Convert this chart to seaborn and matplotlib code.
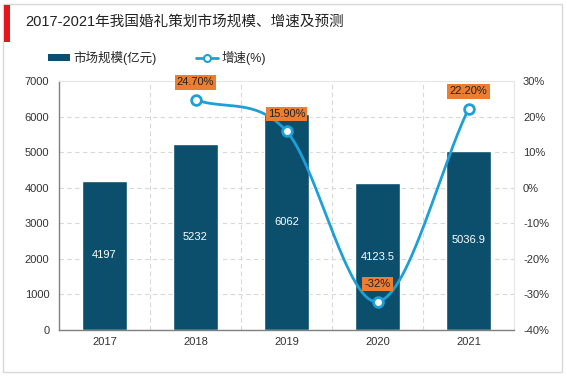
import numpy as np
import matplotlib
matplotlib.use("Agg")
import matplotlib.pyplot as plt
import seaborn as sns
from matplotlib.patches import Rectangle
from matplotlib.lines import Line2D

years = ["2017", "2018", "2019", "2020", "2021"]
market = [4197, 5232, 6062, 4123.5, 5036.9]
market_labels = ["4197", "5232", "6062", "4123.5", "5036.9"]
growth_years_idx = [1, 2, 3, 4]
growth = [24.70, 15.90, -32.0, 22.20]
growth_labels = ["24.70%", "15.90%", "-32%", "22.20%"]
left_ticks = [0, 1000, 2000, 3000, 4000, 5000, 6000, 7000]
right_ticks = [-40, -30, -20, -10, 0, 10, 20, 30]
title = "2017-2021年我国婚礼策划市场规模、增速及预测"

sns.set_theme(style="white")
plt.rcParams['font.family'] = ['Liberation Sans', 'Noto Sans CJK SC', 'DejaVu Sans']

BAR = "#0b4f6c"
LINE = "#1ea0d6"
ORANGE = "#ed7d31"
FS = 8

fig = plt.figure(figsize=(5.67, 3.78), dpi=100)
# outer frame
fig.patches.append(Rectangle((3/567, 6/378), 559/567, 368/378, transform=fig.transFigure,
                             fill=False, edgecolor="#d9d9d9", linewidth=1))
fig.patches.append(Rectangle((4/567, 1 - 42/378), 6/567, 37/378, transform=fig.transFigure,
                             facecolor="#e8141b", edgecolor="none"))
fig.text(25/567, 1 - 22/378, title, fontsize=10.5, va="center", ha="left", color="#222222")

ax = fig.add_axes([59/567, 48/378, 455/567, 249/378])
sns.barplot(x=years, y=market, color=BAR, width=0.5, ax=ax, saturation=1)
ax.set_xlim(-0.5, 4.5)
ax.set_ylim(0, 7000)
ax.set_yticks(left_ticks)
ax.set_yticklabels([str(t) for t in left_ticks], fontsize=FS, color="#333333")
ax.tick_params(axis="x", labelsize=FS, colors="#333333", length=0, pad=5)
ax.tick_params(axis="y", length=0, pad=7)
ax.set_xlabel("")
ax.set_ylabel("")
ax.set_xticks(np.arange(0.5, 4.5, 1), minor=True)
ax.tick_params(axis="x", which="minor", length=0)
ax.grid(axis="y", which="major", linestyle=(0, (4, 3)), color="#d9d9d9", linewidth=0.8)
ax.grid(axis="x", which="minor", linestyle=(0, (4, 3)), color="#d9d9d9", linewidth=0.8)
ax.grid(axis="x", which="major", visible=False)
ax.set_axisbelow(True)
for s in ["top", "right"]:
    ax.spines[s].set_color("#e6e6e6")
    ax.spines[s].set_linewidth(0.8)
ax.spines["left"].set_color("#808080")
ax.spines["bottom"].set_color("#808080")
ax.spines["left"].set_linewidth(1.0)
ax.spines["bottom"].set_linewidth(1.0)

for i, (v, lab) in enumerate(zip(market, market_labels)):
    ax.text(i, v / 2, lab, ha="center", va="center", color="white", fontsize=FS)

ax2 = ax.twinx()
ax2.set_ylim(-40, 30)
ax2.set_yticks(right_ticks)
ax2.set_yticklabels([f"{t}%" for t in right_ticks], fontsize=FS, color="#333333")
ax2.tick_params(axis="y", length=0, pad=6.5)
ax2.grid(False)
for s in ax2.spines.values():
    s.set_visible(False)

# Catmull-Rom smooth line through growth points
xs = np.array(growth_years_idx, dtype=float)
ys = np.array(growth, dtype=float)
px = np.concatenate([[2 * xs[0] - xs[1]], xs, [2 * xs[-1] - xs[-2]]])
py = np.concatenate([[2 * ys[0] - ys[1]], ys, [2 * ys[-1] - ys[-2]]])
cx, cy = [], []
t = np.linspace(0, 1, 60)
for k in range(1, len(px) - 2):
    p0, p1, p2, p3 = [np.array([px[j], py[j]]) for j in (k - 1, k, k + 1, k + 2)]
    pts = 0.5 * ((2 * p1)[None, :] + (-p0 + p2)[None, :] * t[:, None]
                 + (2 * p0 - 5 * p1 + 4 * p2 - p3)[None, :] * (t ** 2)[:, None]
                 + (-p0 + 3 * p1 - 3 * p2 + p3)[None, :] * (t ** 3)[:, None])
    cx.extend(pts[:, 0]); cy.extend(pts[:, 1])
ax2.plot(cx, cy, color=LINE, linewidth=2.0, zorder=3)
ax2.plot(xs, ys, linestyle="none", marker="o", markersize=7, markerfacecolor="white",
         markeredgecolor=LINE, markeredgewidth=2, zorder=4)

for x, y, lab in zip(xs, ys, growth_labels):
    ax2.annotate(lab, (x, y), xytext=(0, 12.5), textcoords="offset points", ha="center", va="center",
                 fontsize=FS, color="#222222",
                 bbox=dict(boxstyle="square,pad=0.2", facecolor=ORANGE, edgecolor="none"), zorder=5)

# legend
handles = [Rectangle((0, 0), 1, 1, facecolor=BAR, edgecolor="none"),
           Line2D([0], [0], color=LINE, linewidth=2, marker="o", markersize=5,
                  markerfacecolor="white", markeredgecolor=LINE, markeredgewidth=1.5)]
fig.legend(handles, ["市场规模(亿元)", "增速(%)"], loc="center left",
           bbox_to_anchor=(48/567, 1 - 58/378), ncol=2, frameon=False, fontsize=9,
           borderpad=0, borderaxespad=0,
           handlelength=1.75, handleheight=0.5, columnspacing=3.2, handletextpad=0.25)

fig.savefig("out.png", dpi=100)
